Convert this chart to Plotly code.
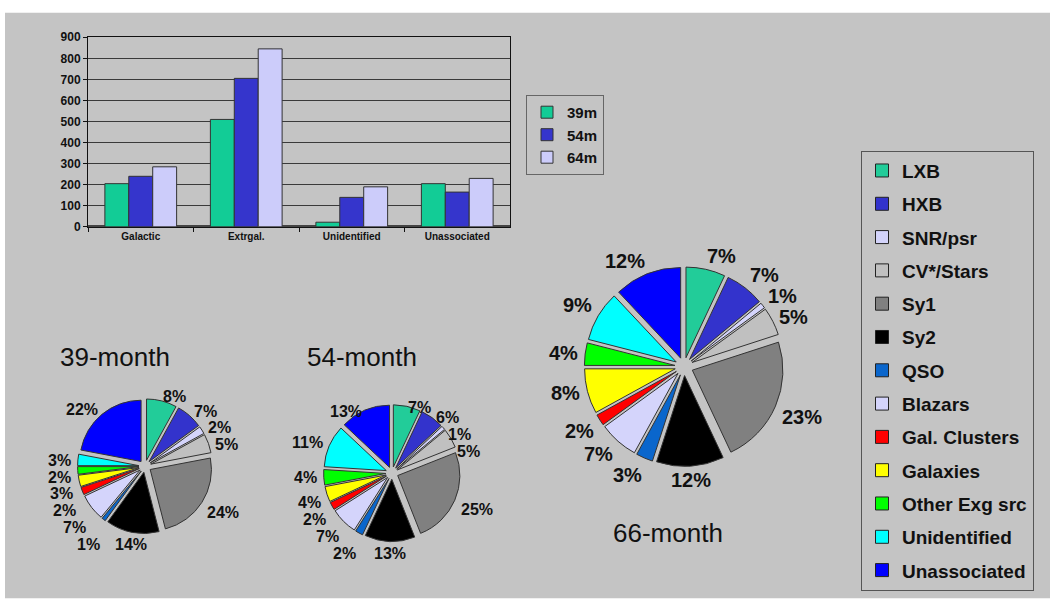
import math
import plotly.graph_objects as go

W, H = 1050, 611

# ---- bar chart data (number of sources per class and survey) ----
bar_categories = ["Galactic", "Extrgal.", "Unidentified", "Unassociated"]
bar_series = ["39m", "54m", "64m"]
counts_39m = [205, 510, 22, 205]
counts_54m = [240, 705, 140, 165]
counts_64m = [285, 845, 190, 230]
bar_colors = ["#12cc96", "#3535cc", "#ccccfa"]

# ---- pie chart data (percentage of sources per class) ----
pie_classes = ["LXB", "HXB", "SNR/psr", "CV*/Stars", "Sy1", "Sy2", "QSO",
               "Blazars", "Gal. Clusters", "Galaxies", "Other Exg src",
               "Unidentified", "Unassociated"]
pct_39 = [8, 7, 2, 5, 24, 14, 1, 7, 2, 3, 2, 3, 22]
pct_54 = [7, 6, 1, 5, 25, 13, 2, 7, 2, 4, 4, 11, 13]
pct_66 = [7, 7, 1, 5, 23, 12, 3, 7, 2, 8, 4, 9, 12]
pie_titles = ["39-month", "54-month", "66-month"]
pie_colors = ["#22cc99", "#3333cc", "#d4d4fb", "#c0c0c0", "#808080", "#000000",
              "#0a66cc", "#d4d4fb", "#ff0000", "#ffff00", "#00ff00",
              "#00ffff", "#0000ff"]

FONT = "Arial, Liberation Sans, sans-serif"
PULL = 0.1


def px_x(p):
    return p / W


def px_y(p):
    return 1 - p / H


def label_boxes(vals, cx, cy, size, fsize, top_squash):
    """Centre positions (px) of the percentage labels around an exploded pie."""
    rx = size / 2 + 5
    total = sum(vals)
    acc = 0
    boxes = []
    for v in vals:
        mid = (acc + v / 2) / total * 2 * math.pi
        acc += v
        s, c = math.sin(mid), math.cos(mid)
        ry = (size / 2) * (top_squash if c > 0 else 1.0) + 5
        ax, ay = cx + rx * s, cy - ry * c
        w = fsize * (0.556 * len(str(v)) + 0.889)
        h = fsize * 0.9
        if s > 0.2:
            ax += w / 2
        elif s < -0.2:
            ax -= w / 2
        if c > 0.25:
            ay -= h / 2
        elif c < -0.25:
            ay += h / 2
        boxes.append([f"{v}%", ax, ay, w, h])
    # nudge neighbouring labels on the same side apart
    min_sep = fsize * 1.08
    for side in (lambda b: b[1] < cx, lambda b: b[1] >= cx):
        group = sorted([b for b in boxes if side(b)], key=lambda b: b[2])
        for a, b in zip(group, group[1:]):
            if abs(a[1] - b[1]) < (a[3] + b[3]) / 2 and b[2] - a[2] < min_sep:
                b[2] = a[2] + min_sep
    return boxes


fig = go.Figure()

# grouped bars
for name, vals, col in zip(bar_series, [counts_39m, counts_54m, counts_64m], bar_colors):
    fig.add_trace(go.Bar(
        x=bar_categories, y=vals, name=name, legend="legend",
        marker=dict(color=col, line=dict(color="#333333", width=1)),
        hoverinfo="x+y+name",
    ))

# three exploded pies: (values, centre x, centre y, domain size px, label size, top squash)
pie_specs = [
    (pct_39, 145, 470, 138, 16, 0.88),
    (pct_54, 392, 477, 140, 16, 0.80),
    (pct_66, 684, 368, 204, 20, 1.0),
]
annotations = []
for (vals, cx, cy, size, fsize, squash), title in zip(pie_specs, pie_titles):
    fig.add_trace(go.Pie(
        labels=pie_classes, values=vals, sort=False, direction="clockwise",
        rotation=0, pull=PULL, showlegend=False, name=title,
        marker=dict(colors=pie_colors, line=dict(color="#333333", width=1)),
        textinfo="none",
        domain=dict(x=[px_x(cx - size / 2), px_x(cx + size / 2)],
                    y=[px_y(cy + size / 2), px_y(cy - size / 2)]),
        hoverinfo="label+value",
    ))
    for text, lx, ly, _, _ in label_boxes(vals, cx, cy, size, fsize, squash):
        annotations.append(dict(
            text=text, x=px_x(lx), y=px_y(ly),
            xref="paper", yref="paper", showarrow=False,
            xanchor="center", yanchor="middle",
            font=dict(family=FONT, size=fsize, color="#111111", weight="bold"),
        ))

# legend entries for the pie classes
for i, (cls, col) in enumerate(zip(pie_classes, pie_colors)):
    fig.add_trace(go.Scatter(
        x=[None], y=[None], mode="markers", name=cls, legend="legend2",
        legendgroup=f"g{i}",
        marker=dict(symbol="square", size=13, color=col,
                    line=dict(color="#222222", width=1)),
    ))

# pie titles
title_pos = [(115, 358), (362, 358), (668, 538)]
annotations += [
    dict(text=t, x=px_x(x), y=px_y(y), xref="paper", yref="paper",
         showarrow=False, xanchor="center", yanchor="middle",
         font=dict(family=FONT, size=26, color="#111111"))
    for t, (x, y) in zip(pie_titles, title_pos)
]

fig.update_layout(
    width=W, height=H,
    margin=dict(l=0, r=0, t=0, b=0),
    paper_bgcolor="white",
    plot_bgcolor="rgba(0,0,0,0)",
    barmode="group", bargap=0.32, bargroupgap=0,
    font=dict(family=FONT, color="#111111"),
    xaxis=dict(
        domain=[px_x(88), px_x(510)],
        showline=True, linecolor="#111111", linewidth=1, mirror=True,
        ticks="outside", ticklen=4, tickcolor="#111111", tickson="boundaries",
        tickfont=dict(family=FONT, size=10, weight="bold"),
        showgrid=False, fixedrange=True,
    ),
    yaxis=dict(
        domain=[px_y(225), px_y(31)], range=[0, 900], dtick=100,
        showline=True, linecolor="#111111", linewidth=1, mirror=True,
        ticks="outside", ticklen=4, tickcolor="#111111",
        tickfont=dict(family=FONT, size=12, weight="bold"),
        showgrid=True, gridcolor="#3a3a3a", gridwidth=1,
        zeroline=True, zerolinecolor="#444444", zerolinewidth=3,
        fixedrange=True,
    ),
    legend=dict(
        x=px_x(526), y=px_y(90), xanchor="left", yanchor="top",
        bgcolor="rgba(0,0,0,0)", bordercolor="#666666", borderwidth=1,
        font=dict(family=FONT, size=15, weight="bold"),
        itemwidth=30,
        itemclick=False, itemdoubleclick=False,
    ),
    legend2=dict(
        x=px_x(861), y=px_y(147), xanchor="left", yanchor="top",
        bgcolor="rgba(0,0,0,0)", bordercolor="#555555", borderwidth=1,
        font=dict(family=FONT, size=19, weight="bold"),
        traceorder="grouped", tracegroupgap=5.6, itemwidth=30,
        itemclick=False, itemdoubleclick=False,
    ),
    shapes=[dict(type="rect", xref="paper", yref="paper", layer="below",
                 x0=px_x(5), x1=1, y0=px_y(605), y1=px_y(6),
                 fillcolor="#c4c4c4", line=dict(width=0))],
    annotations=annotations,
)

fig.write_html("out.html")
